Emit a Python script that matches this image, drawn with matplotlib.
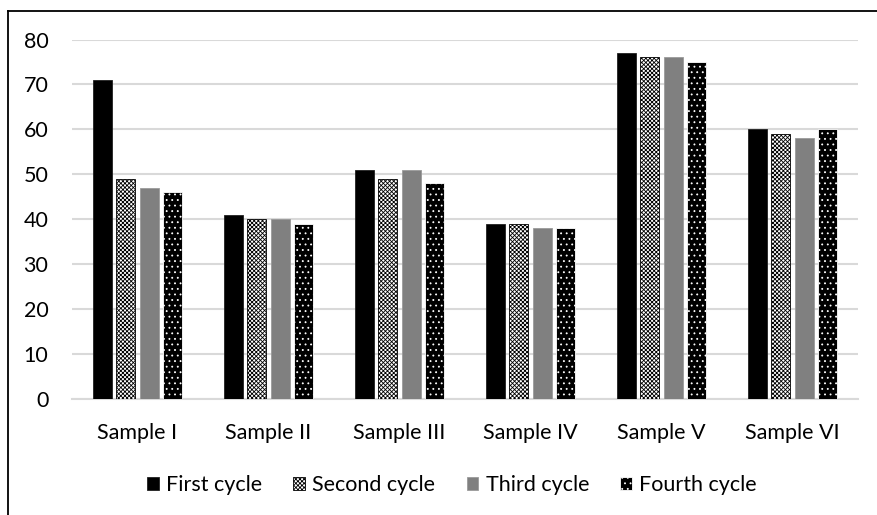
import matplotlib
matplotlib.use("Agg")
import matplotlib.pyplot as plt
import numpy as np
from matplotlib.lines import Line2D
from matplotlib.patches import Patch

plt.rcParams['font.family'] = ['Lato', 'DejaVu Sans']
plt.rcParams['hatch.linewidth'] = 0.6

categories = ["Sample I", "Sample II", "Sample III", "Sample IV", "Sample V", "Sample VI"]
series_names = ["First cycle", "Second cycle", "Third cycle", "Fourth cycle"]
first_cycle = [71, 41, 51, 39, 77, 60]
second_cycle = [49, 40, 49, 39, 76, 59]
third_cycle = [47, 40, 51, 38, 76, 58]
fourth_cycle = [46, 39, 48, 38, 75, 60]
y_ticks = [0, 10, 20, 30, 40, 50, 60, 70, 80]

series = [first_cycle, second_cycle, third_cycle, fourth_cycle]
styles = [
    dict(facecolor="black", hatch=None, edgecolor="#202020"),
    dict(facecolor="white", hatch="xxxxxxxx", edgecolor="black"),
    dict(facecolor="#808080", hatch=None, edgecolor="#9a9a9a"),
    dict(facecolor="black", hatch="...", edgecolor="white"),
]

FS = 15.5
W, H = 877, 515
fig = plt.figure(figsize=(W / 100, H / 100), dpi=100)
ax = fig.add_axes([72 / W, (H - 399) / H, (858 - 72) / W, (399 - 39.5) / H])

x = np.arange(len(categories))
slot = 0.18
width = 0.145
for i, (vals, st) in enumerate(zip(series, styles)):
    offs = (i - 1.5) * slot
    ax.bar(x + offs, vals, width, facecolor=st["facecolor"],
           edgecolor=st["edgecolor"], hatch=st["hatch"], linewidth=0.6,
           zorder=3, label=series_names[i])

ax.set_xlim(-0.5, len(categories) - 0.5)
ax.set_ylim(0, 80)
ax.set_yticks(y_ticks)
ax.set_xticks(x)
ax.set_xticklabels(categories)
ax.tick_params(axis="both", length=0, labelsize=FS, colors="black")
ax.tick_params(axis="y", pad=17)
ax.tick_params(axis="x", pad=17)
ax.yaxis.grid(True, color="#d9d9d9", linewidth=1.5, zorder=0)
ax.set_axisbelow(True)
for side in ["top", "right", "left"]:
    ax.spines[side].set_visible(False)
ax.spines["bottom"].set_color("#d9d9d9")
ax.spines["bottom"].set_linewidth(1.5)

handles = [Patch(facecolor=st["facecolor"], edgecolor=st["edgecolor"],
                 hatch=st["hatch"], linewidth=0.6) for st in styles]
fig.legend(handles, series_names, loc="center", bbox_to_anchor=(452 / W, 1 - 485 / H),
           ncol=4, frameon=False, fontsize=FS, handlelength=0.55, handleheight=0.55,
           handletextpad=0.33, columnspacing=1.45)

# outer frame (left and top edges)
fig.add_artist(Line2D([8 / W, 8 / W], [0, 1 - 10.5 / H], transform=fig.transFigure,
                      color="black", linewidth=1.3))
fig.add_artist(Line2D([8 / W, 1], [1 - 10.5 / H, 1 - 10.5 / H], transform=fig.transFigure,
                      color="black", linewidth=1.3))

fig.savefig("out.png", dpi=100)
